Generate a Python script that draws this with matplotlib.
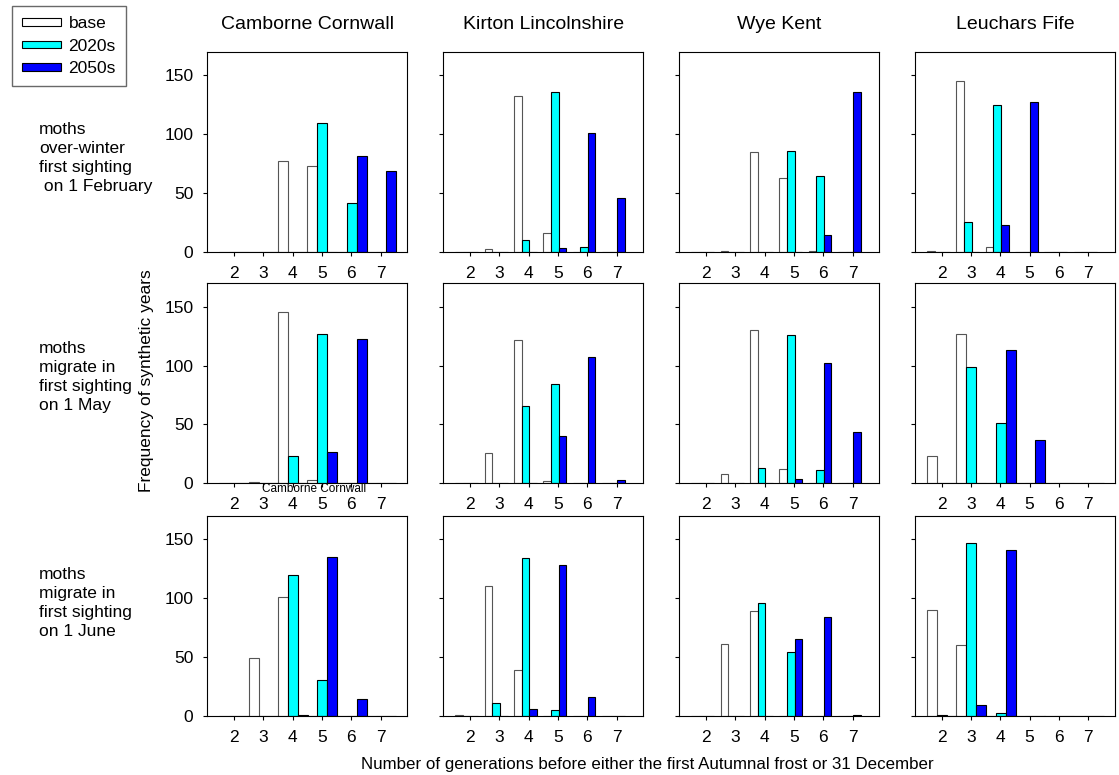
import numpy as np
import matplotlib
matplotlib.use("Agg")
import matplotlib.pyplot as plt
from matplotlib.patches import Patch

plt.rcParams['font.family'] = ['Liberation Sans', 'DejaVu Sans']

# data
generations = [2, 3, 4, 5, 6, 7]
sites = ['Camborne Cornwall', 'Kirton Lincolnshire', 'Wye Kent', 'Leuchars Fife']
scenarios = ['moths\nover-winter\nfirst sighting\n on 1 February',
             'moths\nmigrate in\nfirst sighting\non 1 May',
             'moths\nmigrate in\nfirst sighting\non 1 June']
series_names = ['base', '2020s', '2050s']

# one row per scenario (Feb, May, June)
camborne_base = [[0, 0, 77, 73, 0, 0], [0, 1, 146, 3, 0, 0], [0, 49, 101, 0, 0, 0]]
camborne_2020s = [[0, 0, 0, 109, 41, 0], [0, 0, 23, 127, 0, 0], [0, 0, 120, 30, 0, 0]]
camborne_2050s = [[0, 0, 0, 0, 81, 69], [0, 0, 0, 27, 123, 0], [0, 0, 1, 135, 14, 0]]

kirton_base = [[0, 2, 132, 16, 0, 0], [0, 26, 122, 2, 0, 0], [1, 110, 39, 0, 0, 0]]
kirton_2020s = [[0, 0, 10, 136, 4, 0], [0, 0, 66, 84, 0, 0], [0, 11, 134, 5, 0, 0]]
kirton_2050s = [[0, 0, 0, 3, 101, 46], [0, 0, 0, 40, 107, 3], [0, 0, 6, 128, 16, 0]]

wye_base = [[0, 1, 85, 63, 1, 0], [0, 8, 130, 12, 0, 0], [0, 61, 89, 0, 0, 0]]
wye_2020s = [[0, 0, 0, 86, 64, 0], [0, 0, 13, 126, 11, 0], [0, 0, 96, 54, 0, 0]]
wye_2050s = [[0, 0, 0, 0, 14, 136], [0, 0, 0, 4, 102, 44], [0, 0, 0, 65, 84, 1]]

leuchars_base = [[1, 145, 4, 0, 0, 0], [23, 127, 0, 0, 0, 0], [90, 60, 0, 0, 0, 0]]
leuchars_2020s = [[0, 25, 125, 0, 0, 0], [0, 99, 51, 0, 0, 0], [1, 147, 2, 0, 0, 0]]
leuchars_2050s = [[0, 0, 23, 127, 0, 0], [0, 0, 113, 37, 0, 0], [0, 9, 141, 0, 0, 0]]

site_data = [
    (camborne_base, camborne_2020s, camborne_2050s),
    (kirton_base, kirton_2020s, kirton_2050s),
    (wye_base, wye_2020s, wye_2050s),
    (leuchars_base, leuchars_2020s, leuchars_2050s),
]

colors = ['white', '#00FFFF', '#0000FF']
edges = ['#555555', 'black', 'black']

# bar layout differs between panels in the original
wide_panels = {(0, 0), (1, 0), (2, 0), (1, 3), (2, 3)}
wide = dict(width=0.34, offsets=[-0.33, 0.01, 0.35])
narrow = dict(width=0.26, offsets=[-0.37, -0.11, 0.15])

W, H = 1119, 775
fig = plt.figure(figsize=(W / 100, H / 100), dpi=100)

lefts = [207.3, 443.3, 679.3, 915.0]
bottoms = [251.7, 483.3, 715.7]
pw, ph = 200, 200
fs = 12.5

x = np.array(generations, dtype=float)
for r in range(3):
    for c in range(4):
        ax = fig.add_axes([lefts[c] / W, 1 - bottoms[r] / H, pw / W, ph / H])
        style = wide if (r, c) in wide_panels else narrow
        for k in range(3):
            vals = site_data[c][k][r]
            ax.bar(x + style['offsets'][k], vals, width=style['width'],
                   color=colors[k], edgecolor=edges[k], linewidth=0.8)
        ax.set_xlim(1.09, 7.91)
        ax.set_ylim(0, 170)
        ax.set_xticks(generations)
        ax.set_yticks([0, 50, 100, 150])
        ax.tick_params(axis='both', direction='out', length=3, width=0.8,
                       labelsize=fs, pad=7)
        if c > 0:
            ax.set_yticklabels([])
        for sp in ax.spines.values():
            sp.set_linewidth(0.8)
        if r == 0:
            ax.set_title(sites[c], fontsize=14, pad=16)

for r in range(3):
    yc = [158, 377, 603][r]
    fig.text(39 / W, 1 - yc / H, scenarios[r], ha='left', va='center',
             fontsize=fs, linespacing=1.32)

fig.text(147 / W, 1 - 381 / H, 'Frequency of synthetic years', rotation=90,
         ha='center', va='center', fontsize=fs)
fig.text(647 / W, 1 - 765 / H,
         'Number of generations before either the first Autumnal frost or 31 December',
         ha='center', va='center', fontsize=12.2)
fig.text(314 / W, 1 - 489 / H, 'Camborne Cornwall', ha='center', va='center', fontsize=8.5)

handles = [Patch(facecolor=colors[k], edgecolor='black', linewidth=0.8) for k in range(3)]
fig.legend(handles, series_names, loc='upper left', bbox_to_anchor=(12 / W, 1 - 6 / H),
           fontsize=fs, frameon=True, fancybox=False, edgecolor='#444444',
           handlelength=2.2, handleheight=0.3, handletextpad=0.45,
           labelspacing=0.42, borderpad=0.6, borderaxespad=0)

fig.savefig('out.png', dpi=100)
